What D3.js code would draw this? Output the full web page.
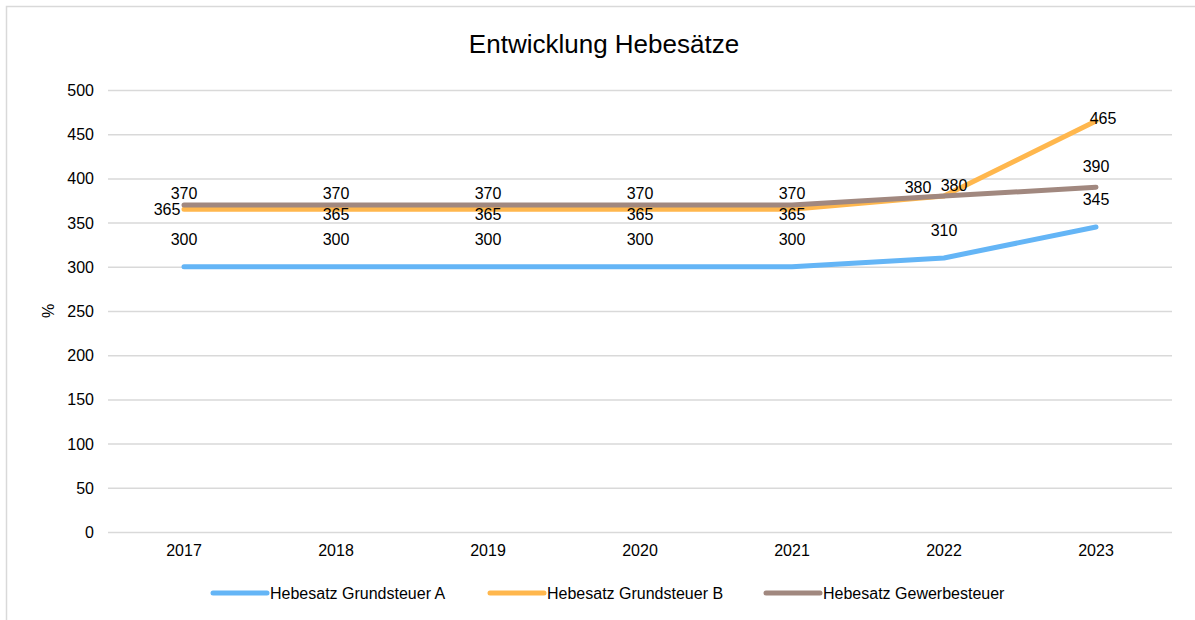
<!DOCTYPE html>
<html>
<head>
<meta charset="utf-8">
<script src="https://cdn.jsdelivr.net/npm/d3@7"></script>
<style>
  body { margin: 0; background: #fff; font-family: "Liberation Sans", Arial, sans-serif; }
  .grid line { stroke: #d9d9d9; stroke-width: 1.5; }
  .grid .domain { display: none; }
  .lbl { font-size: 16px; fill: #000; }
</style>
</head>
<body>
<script>
// chart data
var years = ["2017", "2018", "2019", "2020", "2021", "2022", "2023"];
var grundA = [300, 300, 300, 300, 300, 310, 345];
var grundB = [365, 365, 365, 365, 365, 380, 465];
var gewerbe = [370, 370, 370, 370, 370, 380, 390];
var seriesNames = ["Hebesatz Grundsteuer A", "Hebesatz Grundsteuer B", "Hebesatz Gewerbesteuer"];
var yTicks = [0, 50, 100, 150, 200, 250, 300, 350, 400, 450, 500];

var colors = ["#64b5f6", "#ffb74d", "#a1887f"];

var svgWidth = 1195;
var svgHeight = 620;
var margin = { top: 90, right: 23, bottom: 88, left: 108 };
var chartWidth = svgWidth - margin.left - margin.right;
var chartHeight = svgHeight - margin.top - margin.bottom;

var svg = d3.select("body").append("svg")
  .attr("width", svgWidth)
  .attr("height", svgHeight);

// outer frame (only left/top edges show in the shot)
svg.append("rect")
  .attr("x", 6.5).attr("y", 6.5)
  .attr("width", svgWidth + 10).attr("height", svgHeight + 10)
  .attr("fill", "none").attr("stroke", "#d9d9d9").attr("stroke-width", 1.5);

svg.append("text")
  .attr("x", 604).attr("y", 53)
  .attr("text-anchor", "middle")
  .style("font-size", "26px")
  .text("Entwicklung Hebesätze");

var g = svg.append("g").attr("transform", `translate(${margin.left},${margin.top})`);

var x = d3.scaleBand().domain(years).range([0, chartWidth]);
var y = d3.scaleLinear().domain([0, 500]).range([chartHeight, 0]);

// gridlines + y labels
g.append("g").attr("class", "grid")
  .call(d3.axisLeft(y).tickValues(yTicks).tickSize(-chartWidth).tickFormat(""));

g.selectAll(".ylab").data(yTicks).enter().append("text")
  .attr("class", "lbl")
  .attr("x", -14).attr("y", d => y(d) + 6)
  .attr("text-anchor", "end")
  .text(d => d);

g.selectAll(".xlab").data(years).enter().append("text")
  .attr("class", "lbl")
  .attr("x", d => x(d) + x.bandwidth() / 2)
  .attr("y", chartHeight + 24)
  .attr("text-anchor", "middle")
  .text(d => d);

// y axis title
svg.append("text")
  .attr("transform", "translate(54,311) rotate(-90)")
  .attr("text-anchor", "middle")
  .style("font-size", "16px")
  .text("%");

var allSeries = [grundA, grundB, gewerbe];

var line = d3.line()
  .x((d, i) => x(years[i]) + x.bandwidth() / 2)
  .y(d => y(d));

allSeries.forEach(function(vals, s) {
  g.append("path")
    .datum(vals)
    .attr("fill", "none")
    .attr("stroke", colors[s])
    .attr("stroke-width", 5)
    .attr("stroke-linecap", "round")
    .attr("stroke-linejoin", "round")
    .attr("d", line);
});

// label placement, similar to what Excel picked
function labelOffset(s, i) {
  if (s === 0) return [0, -28];
  if (s === 1) {
    if (i === 0) return [-17, 0];
    if (i === 5) return [10, -11];
    if (i === 6) return [7, -3];
    return [0, 5];
  }
  if (i === 5) return [-26, -9];
  if (i === 6) return [0, -21];
  return [0, -12];
}

allSeries.forEach(function(vals, s) {
  g.selectAll(".dl" + s).data(vals).enter().append("text")
    .attr("class", "lbl")
    .attr("text-anchor", "middle")
    .attr("x", (d, i) => x(years[i]) + x.bandwidth() / 2 + labelOffset(s, i)[0])
    .attr("y", (d, i) => y(d) + labelOffset(s, i)[1] + 6)
    .text(d => d);
});

// legend
var legendX = [213, 490, 766];
var legend = svg.selectAll(".leg").data(seriesNames).enter().append("g")
  .attr("transform", (d, i) => `translate(${legendX[i]},593)`);
legend.append("line")
  .attr("x1", 0).attr("x2", 54)
  .attr("stroke", (d, i) => colors[i])
  .attr("stroke-width", 5)
  .attr("stroke-linecap", "round");
legend.append("text")
  .attr("x", 57).attr("y", 6)
  .style("font-size", "16px")
  .text(d => d);
</script>
</body>
</html>
